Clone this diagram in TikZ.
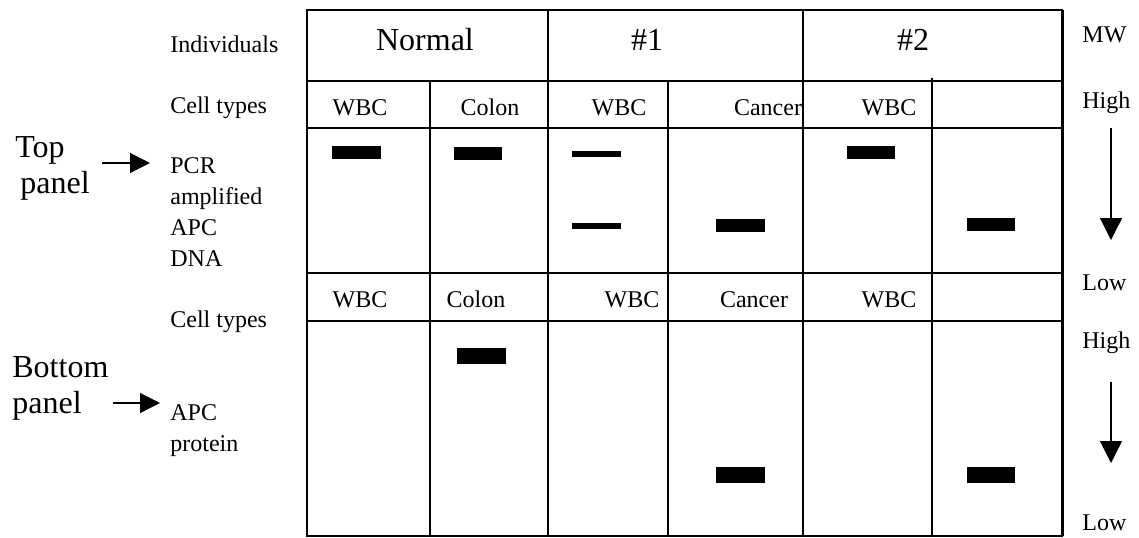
\documentclass[tikz,border=0pt]{standalone}
\usepackage{fontspec}
\setmainfont{Liberation Serif}
\usetikzlibrary{arrows.meta}

\begin{document}
\begin{tikzpicture}[x=0.5pt, y=-0.5pt,
    small/.style={font=\fontsize{12}{15}\selectfont, inner sep=0pt},
    big/.style={font=\fontsize{16}{18}\selectfont, inner sep=0pt},
    grid/.style={line width=0.75pt},
    band/.style={fill=black},
    mwarrow/.style={line width=0.6pt, -{Triangle[width=11pt,length=11pt]}},
    panelarrow/.style={line width=0.6pt, -{Triangle[width=10pt,length=10pt]}}]

    \useasboundingbox (0,0) rectangle (1139,537);

    % table frame and cells
    \draw [line width=1pt] (307,10) rectangle (1062,536);
    \draw [line width=1.5pt] (1062,10) -- (1062,536);
    \foreach \y in {81,128,273,321}
      \draw [grid] (307,\y) -- (1062,\y);
    \foreach \x in {548,803}
      \draw [grid] (\x,10) -- (\x,536);
    \foreach \x in {430,668}
      \draw [grid] (\x,81) -- (\x,536);
    \draw [grid] (932,78) -- (932,536);

    % header row
    \node [big,anchor=base] (normal) at (425,50) {Normal};
    \node [big,anchor=base] (indone) at (647,50) {\#1};
    \node [big,anchor=base] (indtwo) at (913,50) {\#2};

    % cell types, top panel
    \node [small,anchor=base] (twbca) at (360,115) {WBC};
    \node [small,anchor=base] (tcolon) at (490,115) {Colon};
    \node [small,anchor=base] (twbcb) at (619,115) {WBC};
    \node [small,anchor=base] (tcancer) at (768,115) {Cancer};
    \node [small,anchor=base] (twbcc) at (889,115) {WBC};

    % cell types, bottom panel
    \node [small,anchor=base] (bwbca) at (360,307) {WBC};
    \node [small,anchor=base] (bcolon) at (476,307) {Colon};
    \node [small,anchor=base] (bwbcb) at (632,307) {WBC};
    \node [small,anchor=base] (bcancer) at (754,307) {Cancer};
    \node [small,anchor=base] (bwbcc) at (889,307) {WBC};

    % bands, top panel
    \fill [band] (332,146) rectangle (381,159);
    \fill [band] (454,147) rectangle (502,160);
    \fill [band] (572,151) rectangle (621,157);
    \fill [band] (572,223) rectangle (621,229);
    \fill [band] (716,219) rectangle (765,232);
    \fill [band] (847,146) rectangle (895,159);
    \fill [band] (967,218) rectangle (1015,231);

    % bands, bottom panel
    \fill [band] (457,348) rectangle (506,364);
    \fill [band] (716,467) rectangle (765,483);
    \fill [band] (967,467) rectangle (1015,483);

    % row labels
    \node [small,anchor=base west] (indiv) at (170,52) {Individuals};
    \node [small,anchor=base west] (celltop) at (170,113) {Cell types};
    \node [small,anchor=base west] (pcr) at (170,173) {PCR};
    \node [small,anchor=base west] (ampl) at (170,204) {amplified};
    \node [small,anchor=base west] (apcdna) at (170,235) {APC};
    \node [small,anchor=base west] (dna) at (170,266) {DNA};
    \node [small,anchor=base west] (cellbot) at (170,327) {Cell types};
    \node [small,anchor=base west] (apcprot) at (170,420) {APC};
    \node [small,anchor=base west] (protein) at (170,451) {protein};

    % panel names
    \node [big,anchor=base west] (toplbl) at (15,157) {Top};
    \node [big,anchor=base west] (toppanel) at (20,193) {panel};
    \node [big,anchor=base west] (botlbl) at (12,377) {Bottom};
    \node [big,anchor=base west] (botpanel) at (12,413) {panel};

    \coordinate (topfrom) at (102,163);
    \coordinate (topto) at (150,163);
    \coordinate (botfrom) at (113,403);
    \coordinate (botto) at (160,403);
    \draw [panelarrow] (topfrom) -- (topto);
    \draw [panelarrow] (botfrom) -- (botto);

    % molecular weight scale
    \node [small,anchor=base west] (mw) at (1082,42) {MW};
    \node [small,anchor=base west] (hightop) at (1082,108) {High};
    \node [small,anchor=base west] (lowtop) at (1082,290) {Low};
    \node [small,anchor=base west] (highbot) at (1082,348) {High};
    \node [small,anchor=base west] (lowbot) at (1082,530) {Low};

    \coordinate (mwtopa) at (1111,128);
    \coordinate (mwtopb) at (1111,240);
    \coordinate (mwbota) at (1111,382);
    \coordinate (mwbotb) at (1111,463);
    \draw [mwarrow] (mwtopa) -- (mwtopb);
    \draw [mwarrow] (mwbota) -- (mwbotb);
  \end{tikzpicture}
\end{document}
